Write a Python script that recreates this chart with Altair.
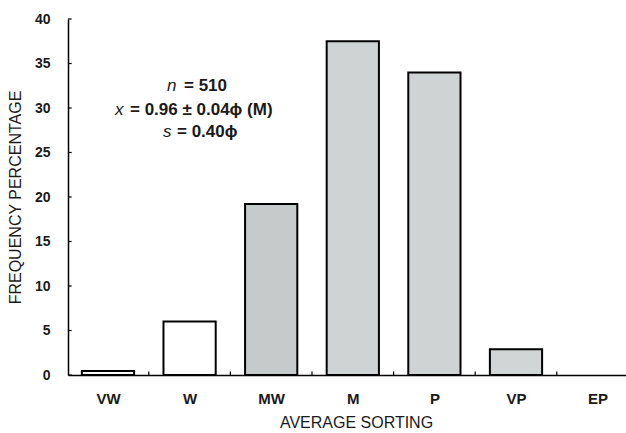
import altair as alt
import pandas as pd

categories = ["VW", "W", "MW", "M", "P", "VP", "EP"]
frequency = [0.45, 6.0, 19.2, 37.5, 34.0, 2.9, 0.0]
y_ticks = [0, 5, 10, 15, 20, 25, 30, 35, 40]
bar_fills = ["#ffffff", "#ffffff", "#c6caca", "#cfd3d3", "#cfd3d3", "#d2d5d5", "#ffffff"]

FONT = "Liberation Sans"
INK = "#1a1a1a"
X0, X1 = -0.49, 6.348
half = 0.32

df = pd.DataFrame({"cat": categories, "idx": list(range(len(categories))), "freq": frequency})
df["lo"] = df["idx"] - half
df["hi"] = df["idx"] + half

xs = alt.Scale(domain=[X0, X1], nice=False, zero=False)
ys = alt.Scale(domain=[0, 40], nice=False)

label_expr = "[" + ",".join("'%s'" % c for c in categories) + "][datum.value]"

bars = alt.Chart(df).transform_filter("datum.freq > 0").mark_bar(
    stroke="black", strokeWidth=2
).encode(
    x=alt.X("lo:Q", scale=xs, axis=alt.Axis(
        values=list(range(len(categories))), labelExpr=label_expr, tickSize=0,
        domainColor="black", domainWidth=1.5, grid=False,
        labelFont=FONT, labelFontSize=15, labelFontWeight="bold", labelColor=INK,
        labelPadding=16,
        title="AVERAGE SORTING", titleFont=FONT, titleFontSize=16, titleFontWeight=500,
        titleColor=INK, titlePadding=8, titleX=288)),
    x2="hi:Q",
    y=alt.Y("freq:Q", scale=ys, axis=alt.Axis(
        values=y_ticks, tickSize=0, domainColor="black", domainWidth=1.5, grid=False,
        labelFont=FONT, labelFontSize=14, labelFontWeight="bold", labelColor=INK,
        labelPadding=18,
        title="FREQUENCY PERCENTAGE", titleFont=FONT, titleFontSize=16,
        titleFontWeight=500, titleColor=INK, titlePadding=11)),
    y2=alt.datum(0),
    fill=alt.Fill("cat:N", scale=alt.Scale(domain=categories, range=bar_fills), legend=None),
)

# inward ticks on the y axis
ytick_df = pd.DataFrame({"v": y_ticks})
ytick_layer = alt.Chart(ytick_df).mark_rule(color="black", strokeWidth=1.2).encode(
    y=alt.Y("v:Q", scale=ys),
    x=alt.datum(X0, scale=xs),
    x2=alt.datum(X0 + 0.045),
)

# small upward ticks between categories on the x axis
bound_df = pd.DataFrame({"b": [i + 0.5 for i in range(len(categories) - 1)]})
xtick_layer = alt.Chart(bound_df).mark_rule(color="black", strokeWidth=1.2).encode(
    x=alt.X("b:Q", scale=xs),
    y=alt.datum(0, scale=ys),
    y2=alt.datum(0.4),
)

def px_x(p):
    return (p - 68) / 81.6 + X0

def px_y(p):
    return (375 - p) / 8.9

def txt(s, px, py, italic=False):
    return alt.Chart(pd.DataFrame({"t": [s]})).mark_text(
        align="left", baseline="middle", font=FONT, fontSize=17,
        fontWeight="normal" if italic else "bold",
        fontStyle="italic" if italic else "normal", color=INK
    ).encode(
        x=alt.datum(px_x(px), scale=xs),
        y=alt.datum(px_y(py), scale=ys),
        text="t:N",
    )

annotations = [
    txt("n", 167, 86, True), txt("= 510", 184, 86),
    txt("x", 115, 110, True), txt("= 0.96 \u00b1 0.04\u03d5 (M)", 130, 110),
    txt("s", 163, 132, True), txt("= 0.40\u03d5", 177, 132),
]

chart = alt.layer(bars, ytick_layer, xtick_layer, *annotations).properties(
    width=558, height=356,
    padding={"left": 68, "top": 19, "right": 0, "bottom": 58},
    autosize=alt.AutoSizeParams(type="none"),
    background="white",
).configure_view(stroke=None)

chart.save("out.html", embed_options={"renderer": "svg", "actions": False})
